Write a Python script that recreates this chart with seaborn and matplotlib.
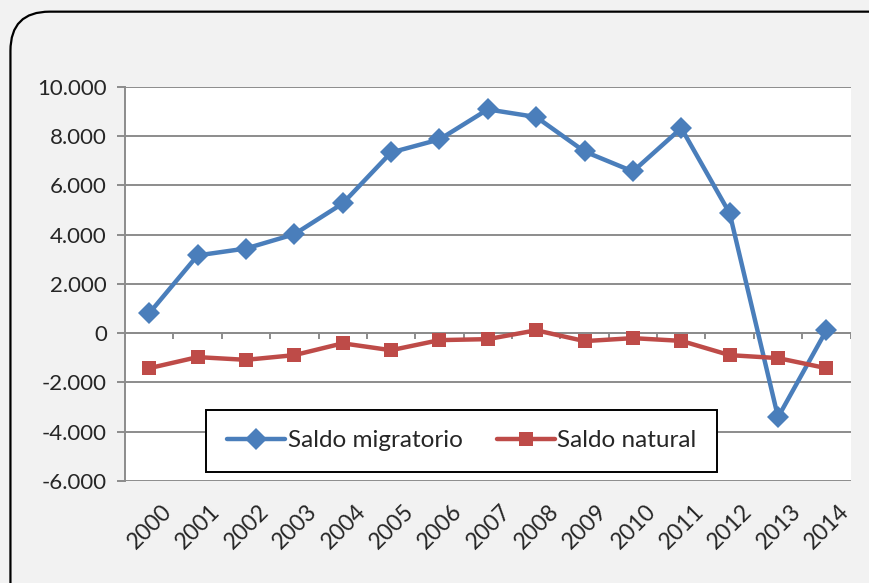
import matplotlib
matplotlib.use("Agg")
import matplotlib.pyplot as plt
import matplotlib.ticker as mticker
from matplotlib.patches import FancyBboxPatch
import matplotlib.transforms as mtransforms
import pandas as pd
import seaborn as sns

years = [str(y) for y in range(2000, 2015)]
saldo_migratorio = [810, 3160, 3440, 4020, 5270, 7340, 7870, 9090, 8780, 7380,
                    6570, 8330, 4870, -3410, 120]
saldo_natural = [-1420, -970, -1080, -890, -410, -690, -280, -240, 120, -320,
                 -200, -310, -890, -1010, -1420]

df = pd.DataFrame({
    "idx": list(range(len(years))) * 2,
    "valor": saldo_migratorio + saldo_natural,
    "serie": ["Saldo migratorio"] * len(years) + ["Saldo natural"] * len(years),
})

sns.set_theme(style="white")
plt.rcParams["font.family"] = ["Lato", "DejaVu Sans"]

fig = plt.figure(figsize=(8.7, 5.83), dpi=100)
fig.patch.set_facecolor("#f2f2f2")
# rounded chart frame, running off the right and bottom edges
frame = FancyBboxPatch((0.012, -0.2), 1.2, 1.18, boxstyle="round,pad=0,rounding_size=0.045",
                       transform=fig.transFigure, facecolor="none", edgecolor="black",
                       linewidth=1.6, mutation_aspect=870 / 583)
fig.patches.append(frame)

ax = fig.add_axes([0.1437, 0.175, 0.834, 0.6758])
ax.set_facecolor("white")

colors = {"Saldo migratorio": "#4a7ebb", "Saldo natural": "#be4b48"}
markers = {"Saldo migratorio": "D", "Saldo natural": "s"}
sizes = {"Saldo migratorio": 11, "Saldo natural": 10}
for name in ["Saldo migratorio", "Saldo natural"]:
    sub = df[df["serie"] == name]
    sns.lineplot(data=sub, x="idx", y="valor", ax=ax, color=colors[name],
                 linewidth=3.2, marker=markers[name], markersize=sizes[name],
                 markeredgewidth=0, label=name, zorder=3)

ax.set_xlim(-0.5, len(years) - 0.5)
ax.set_ylim(-6000, 10000)
ax.yaxis.set_major_locator(mticker.MultipleLocator(2000))
ax.yaxis.set_major_formatter(mticker.FuncFormatter(
    lambda v, p: f"{int(v):,}".replace(",", ".")))
ax.grid(axis="y", color="#8c8c8c", linewidth=1.4)
ax.set_axisbelow(True)

for s in ["top", "right", "bottom"]:
    ax.spines[s].set_visible(False)
ax.spines["left"].set_color("#8c8c8c")
ax.spines["left"].set_linewidth(1.4)

ax.axhline(0, color="#8c8c8c", linewidth=1.4, zorder=1)
ax.vlines([i + 0.5 for i in range(-1, len(years))], -250, 0, color="#8c8c8c",
          linewidth=1.4, zorder=1)

ax.set_xticks(range(len(years)))
ax.set_xticklabels(years, rotation=45, ha="right", rotation_mode="anchor", fontsize=16.5)
ax.tick_params(axis="x", length=0, pad=14)
ax.tick_params(axis="y", length=6, width=1.4, color="#8c8c8c", labelsize=16, pad=7, left=True)
offset = mtransforms.ScaledTranslation(12 / 100, 0, fig.dpi_scale_trans)
for lab in ax.get_xticklabels():
    lab.set_transform(lab.get_transform() + offset)

ax.set_xlabel("")
ax.set_ylabel("")

leg = ax.legend(loc="center", bbox_to_anchor=(0.464, 0.1015), ncol=2, fontsize=17.5,
                frameon=True, fancybox=False, edgecolor="black", framealpha=1,
                handlelength=2.4, handletextpad=0.1, columnspacing=1.4,
                borderpad=0.85)
leg.get_frame().set_linewidth(1.4)

fig.savefig("out.png", dpi=100, facecolor=fig.get_facecolor())
